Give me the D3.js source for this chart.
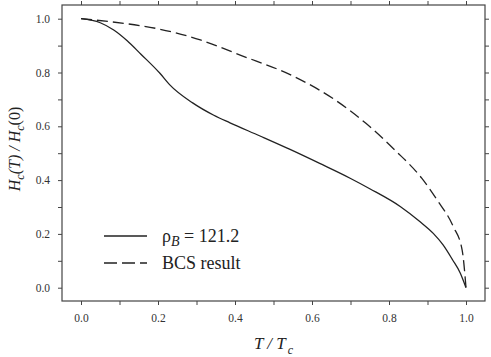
<!DOCTYPE html>
<html>
<head>
<meta charset="utf-8">
<script src="https://cdn.jsdelivr.net/npm/d3@7"></script>
<style>
  body { margin: 0; background: #fff; }
  svg { display: block; }
</style>
</head>
<body>
<div id="container"></div>
<script>
// Reduced temperature T/Tc and Hc(T)/Hc(0)
const tRho = [0, 0.05, 0.085, 0.12, 0.155, 0.205, 0.23, 0.29, 0.345, 0.387, 0.465, 0.543, 0.62, 0.699, 0.75, 0.83, 0.88, 0.915, 0.94, 0.965, 0.985, 1.0];
const hRho = [1.0, 0.985, 0.958, 0.918, 0.869, 0.797, 0.755, 0.687, 0.641, 0.613, 0.564, 0.514, 0.462, 0.407, 0.368, 0.301, 0.246, 0.202, 0.16, 0.104, 0.055, 0.0];

const tBCS = [0, 0.075, 0.205, 0.31, 0.415, 0.555, 0.66, 0.74, 0.815, 0.885, 0.925, 0.967, 0.99, 1.0];
const hBCS = [1.0, 0.989, 0.961, 0.921, 0.864, 0.784, 0.698, 0.611, 0.512, 0.407, 0.326, 0.227, 0.14, 0.0];

const majorTicks = [0, 0.2, 0.4, 0.6, 0.8, 1.0];
const minorTicks = [0, 0.1, 0.2, 0.3, 0.4, 0.5, 0.6, 0.7, 0.8, 0.9, 1.0];

const legendLabels = ["ρ", "BCS result"];

const width = 491,
  height = 357;
const serif = "'Liberation Serif', 'Times New Roman', serif";

// box of the plot frame
const box = { left: 62, right: 485, top: 5, bottom: 301 };

const svg = d3
  .select("div#container")
  .append("svg")
  .attr("width", width)
  .attr("height", height)
  .attr("font-family", serif);

// Set Scales
const x = d3.scaleLinear().domain([0, 1]).range([81, 466]);
const y = d3.scaleLinear().domain([0, 1]).range([287.7, 18.7]);

const ink = "#222";
const axisInk = "#444";
const isMajor = (d) => majorTicks.some((m) => Math.abs(m - d) < 1e-9);

// frame
svg.append("rect")
  .attr("x", box.left)
  .attr("y", box.top)
  .attr("width", box.right - box.left)
  .attr("height", box.bottom - box.top)
  .attr("fill", "none")
  .attr("stroke", axisInk)
  .attr("stroke-width", 1.2);

// axes, ticks pointing outward
const styleAxis = (g) => {
  g.attr("font-family", serif).attr("font-size", 11.5);
  g.select(".domain").remove();
  g.selectAll(".tick line").attr("stroke", axisInk).attr("stroke-width", 1);
  g.selectAll(".tick text").attr("fill", "#333");
};

svg.append("g")
  .attr("transform", `translate(0,${box.bottom})`)
  .call(d3.axisBottom(x).tickValues(minorTicks).tickSize(4).tickPadding(9)
    .tickFormat((d) => (isMajor(d) ? d3.format(".1f")(d) : "")))
  .call(styleAxis);

svg.append("g")
  .attr("transform", `translate(0,${box.top})`)
  .call(d3.axisTop(x).tickValues(minorTicks).tickSize(4).tickFormat(""))
  .call(styleAxis);

svg.append("g")
  .attr("transform", `translate(${box.left},0)`)
  .call(d3.axisLeft(y).tickValues(minorTicks).tickSize(4).tickPadding(8)
    .tickFormat((d) => (isMajor(d) ? d3.format(".1f")(d) : "")))
  .call(styleAxis);

svg.append("g")
  .attr("transform", `translate(${box.right},0)`)
  .call(d3.axisRight(y).tickValues(minorTicks).tickSize(4).tickFormat(""))
  .call(styleAxis);

// curves
const line = d3.line()
  .x((d) => x(d[0]))
  .y((d) => y(d[1]))
  .curve(d3.curveMonotoneX);

svg.append("path")
  .datum(tRho.map((t, i) => [t, hRho[i]]))
  .attr("d", line)
  .attr("fill", "none")
  .attr("stroke", ink)
  .attr("stroke-width", 1.3);

svg.append("path")
  .datum(tBCS.map((t, i) => [t, hBCS[i]]))
  .attr("d", line)
  .attr("fill", "none")
  .attr("stroke", ink)
  .attr("stroke-width", 1.3)
  .attr("stroke-dasharray", "11,5");

// legend
const legend = svg.append("g").attr("transform", "translate(104,236)");
legend.append("line").attr("x1", 0).attr("x2", 43).attr("y1", 0).attr("y2", 0)
  .attr("stroke", ink).attr("stroke-width", 1.3);
legend.append("line").attr("x1", 0).attr("x2", 43).attr("y1", 27).attr("y2", 27)
  .attr("stroke", ink).attr("stroke-width", 1.3).attr("stroke-dasharray", "13,5");

const t1 = legend.append("text").attr("x", 58).attr("y", 6).attr("fill", ink).attr("font-size", 18);
t1.append("tspan").text(legendLabels[0]);
t1.append("tspan").attr("dy", 4).attr("font-style", "italic").attr("font-size", 14).text("B");
t1.append("tspan").attr("dy", -4).text(" = 121.2");

legend.append("text").attr("x", 58).attr("y", 33).attr("fill", ink).attr("font-size", 18).text(legendLabels[1]);

// x axis title
const xt = svg.append("text")
  .attr("x", (box.left + box.right) / 2)
  .attr("y", 349)
  .attr("text-anchor", "middle")
  .attr("fill", ink)
  .attr("font-size", 17)
  .attr("font-style", "italic");
xt.append("tspan").text("T / T");
xt.append("tspan").attr("dy", 5).attr("dx", 2).attr("font-size", 12).text("c");

// y axis title
const yt = svg.append("text")
  .attr("transform", "translate(20,149) rotate(-90)")
  .attr("text-anchor", "middle")
  .attr("fill", ink)
  .attr("font-size", 16)
  .attr("font-style", "italic");
yt.append("tspan").text("H");
yt.append("tspan").attr("dy", 4).attr("font-size", 12).text("c");
yt.append("tspan").attr("dy", -4).text("(T) / H");
yt.append("tspan").attr("dy", 4).attr("font-size", 12).text("c");
yt.append("tspan").attr("dy", -4).attr("font-style", "normal").text("(0)");
</script>
</body>
</html>
